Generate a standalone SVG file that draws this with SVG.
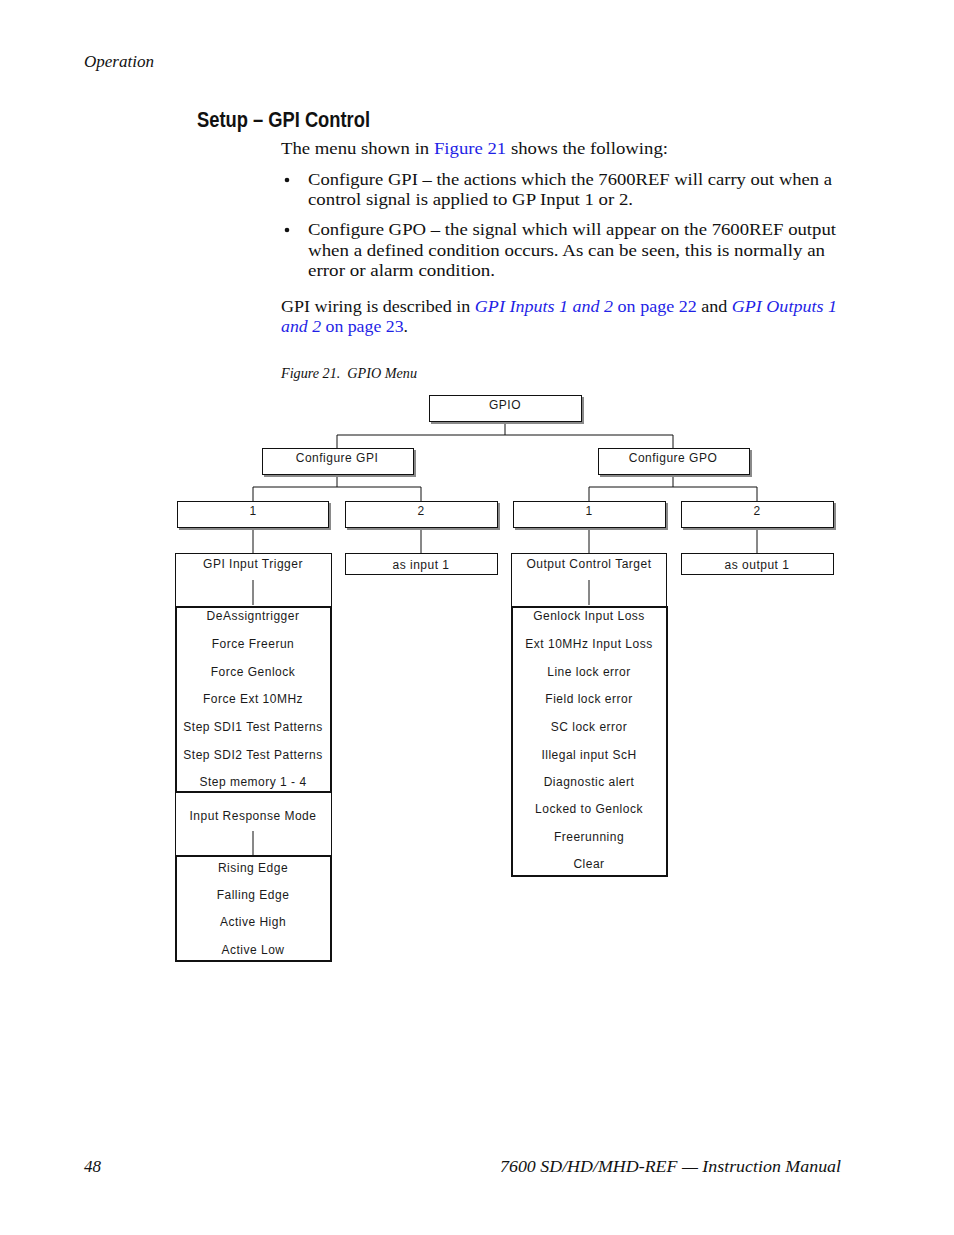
<svg xmlns="http://www.w3.org/2000/svg" width="954" height="1235" viewBox="0 0 954 1235">
<style>
.pg{font-family:"Liberation Serif","DejaVu Serif",serif;fill:#111}
.it{font-style:italic}
.lk{fill:#1f1fe6}
.hd{font-family:"Liberation Sans Narrow","Liberation Sans",sans-serif;font-weight:bold;font-size:22px;fill:#111}
.bx{fill:#fff;stroke:#111;stroke-width:1}
.tk{fill:#fff;stroke:#111;stroke-width:2}
.sh{fill:#8a8a8a}
.t{font-family:"Liberation Sans",Arial,sans-serif;font-size:12px;letter-spacing:0.5px;fill:#1a1a1a;text-anchor:middle}
.ln{stroke:#111;stroke-width:1;fill:none}
</style>
<rect width="954" height="1235" fill="#fff"/>
<text class="pg it" x="84" y="67" font-size="16" textLength="70" lengthAdjust="spacingAndGlyphs">Operation</text>
<text class="hd" x="197" y="127" textLength="173" lengthAdjust="spacingAndGlyphs">Setup – GPI Control</text>
<text class="pg" x="281" y="154" font-size="17" textLength="387" lengthAdjust="spacingAndGlyphs">The menu shown in <tspan class="lk">Figure 21</tspan> shows the following:</text>
<circle cx="287" cy="180" r="2.3" fill="#111"/>
<text class="pg" x="308" y="185" font-size="17" textLength="524" lengthAdjust="spacingAndGlyphs">Configure GPI – the actions which the 7600REF will carry out when a</text>
<text class="pg" x="308" y="205" font-size="17" textLength="325" lengthAdjust="spacingAndGlyphs">control signal is applied to GP Input 1 or 2.</text>
<circle cx="287" cy="230" r="2.3" fill="#111"/>
<text class="pg" x="308" y="235" font-size="17" textLength="528" lengthAdjust="spacingAndGlyphs">Configure GPO – the signal which will appear on the 7600REF output</text>
<text class="pg" x="308" y="256" font-size="17" textLength="517" lengthAdjust="spacingAndGlyphs">when a defined condition occurs. As can be seen, this is normally an</text>
<text class="pg" x="308" y="276" font-size="17" textLength="187" lengthAdjust="spacingAndGlyphs">error or alarm condition.</text>
<text class="pg" x="281" y="312" font-size="17" textLength="556" lengthAdjust="spacingAndGlyphs">GPI wiring is described in <tspan class="lk it">GPI Inputs 1 and 2</tspan><tspan class="lk"> on page 22</tspan> and <tspan class="lk it">GPI Outputs 1</tspan></text>
<text class="pg" x="281" y="332" font-size="17" textLength="127" lengthAdjust="spacingAndGlyphs"><tspan class="lk it">and 2</tspan><tspan class="lk"> on page 23</tspan>.</text>
<text class="pg it" x="281" y="378" font-size="14" textLength="136" lengthAdjust="spacingAndGlyphs">Figure 21.&#160; GPIO Menu</text>

<g id="connectors">
<path class="ln" d="M505 421V435M337 435H673M337 435V448M673 435V448M337 474V487M253 487H421M253 487V501M421 487V501M673 474V487M589 487H757M589 487V501M757 487V501M253 527V553M421 527V553M589 527V553M757 527V553"/>
</g>

<g id="gpio"><rect class="sh" x="431" y="397" width="153" height="27"/><rect class="bx" x="429.5" y="395.5" width="152" height="26"/><text class="t" x="505" y="409">GPIO</text></g>
<g id="cfg-gpi"><rect class="sh" x="264" y="450" width="152" height="27"/><rect class="bx" x="262.5" y="448.5" width="151" height="26"/><text class="t" x="337" y="462">Configure GPI</text></g>
<g id="cfg-gpo"><rect class="sh" x="600" y="450" width="152" height="27"/><rect class="bx" x="598.5" y="448.5" width="151" height="26"/><text class="t" x="673" y="462">Configure GPO</text></g>
<g id="gpi-1"><rect class="sh" x="179" y="503" width="152" height="27"/><rect class="bx" x="177.5" y="501.5" width="151" height="26"/><text class="t" x="253" y="515">1</text></g>
<g id="gpi-2"><rect class="sh" x="347" y="503" width="153" height="27"/><rect class="bx" x="345.5" y="501.5" width="152" height="26"/><text class="t" x="421" y="515">2</text></g>
<g id="gpo-1"><rect class="sh" x="515" y="503" width="153" height="27"/><rect class="bx" x="513.5" y="501.5" width="152" height="26"/><text class="t" x="589" y="515">1</text></g>
<g id="gpo-2"><rect class="sh" x="683" y="503" width="153" height="27"/><rect class="bx" x="681.5" y="501.5" width="152" height="26"/><text class="t" x="757" y="515">2</text></g>

<g id="gpi-input-trigger"><rect class="bx" x="175.5" y="553.5" width="156" height="53"/><line class="ln" x1="253" y1="580" x2="253" y2="605"/><text class="t" x="253" y="568">GPI Input Trigger</text></g>
<g id="as-input-1"><rect class="bx" x="345.5" y="553.5" width="152" height="21"/><text class="t" x="421" y="569">as input 1</text></g>
<g id="trigger-actions"><rect class="tk" x="176" y="607" width="155" height="185"/>
<text class="t" x="253" y="620">DeAssigntrigger</text>
<text class="t" x="253" y="648">Force Freerun</text>
<text class="t" x="253" y="676">Force Genlock</text>
<text class="t" x="253" y="703">Force Ext 10MHz</text>
<text class="t" x="253" y="731">Step SDI1 Test Patterns</text>
<text class="t" x="253" y="759">Step SDI2 Test Patterns</text>
<text class="t" x="253" y="786">Step memory 1 - 4</text></g>
<g id="input-response-mode"><rect class="bx" x="175.5" y="792.5" width="156" height="63"/><line class="ln" x1="253" y1="831" x2="253" y2="855"/><text class="t" x="253" y="820">Input Response Mode</text></g>
<g id="response-options"><rect class="tk" x="176" y="856" width="155" height="105"/>
<text class="t" x="253" y="872">Rising Edge</text>
<text class="t" x="253" y="899">Falling Edge</text>
<text class="t" x="253" y="926">Active High</text>
<text class="t" x="253" y="954">Active Low</text></g>

<g id="output-control-target"><rect class="bx" x="511.5" y="553.5" width="155" height="53"/><line class="ln" x1="589" y1="580" x2="589" y2="605"/><text class="t" x="589" y="568">Output Control Target</text></g>
<g id="as-output-1"><rect class="bx" x="681.5" y="553.5" width="152" height="21"/><text class="t" x="757" y="569">as output 1</text></g>
<g id="output-conditions"><rect class="tk" x="512" y="607" width="155" height="269"/>
<text class="t" x="589" y="620">Genlock Input Loss</text>
<text class="t" x="589" y="648">Ext 10MHz Input Loss</text>
<text class="t" x="589" y="676">Line lock error</text>
<text class="t" x="589" y="703">Field lock error</text>
<text class="t" x="589" y="731">SC lock error</text>
<text class="t" x="589" y="759">Illegal input ScH</text>
<text class="t" x="589" y="786">Diagnostic alert</text>
<text class="t" x="589" y="813">Locked to Genlock</text>
<text class="t" x="589" y="841">Freerunning</text>
<text class="t" x="589" y="868">Clear</text></g>

<text class="pg it" x="84" y="1172" font-size="16" textLength="17" lengthAdjust="spacingAndGlyphs">48</text>
<text class="pg it" x="500" y="1172" font-size="16" textLength="341" lengthAdjust="spacingAndGlyphs">7600 SD/HD/MHD-REF — Instruction Manual</text>
</svg>
